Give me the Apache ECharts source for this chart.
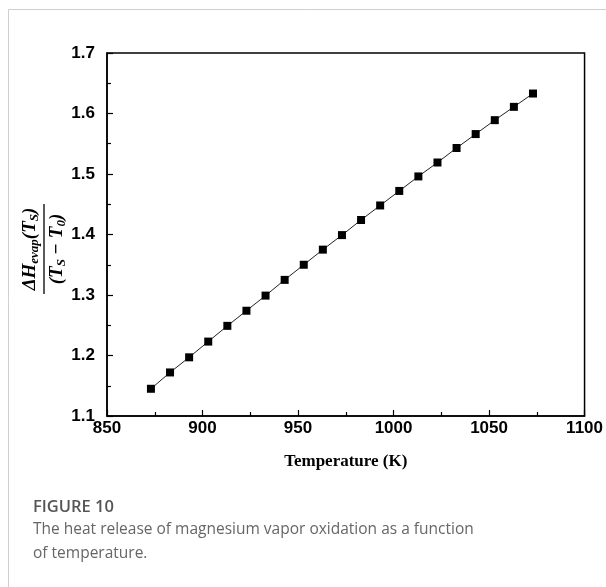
<!DOCTYPE html>
<html>
<head>
<meta charset="utf-8">
<script src="https://cdn.jsdelivr.net/npm/echarts@6/dist/echarts.min.js"></script>
<style>
html,body{margin:0;padding:0;background:#fff;}
#chart{width:606px;height:587px;}
</style>
</head>
<body>
<div id="chart"></div>
<script>
const temperatures = [873, 883, 893, 903, 913, 923, 933, 943, 953, 963, 973, 983, 993, 1003, 1013, 1023, 1033, 1043, 1053, 1063, 1073];
const heatRatio = [1.145, 1.172, 1.197, 1.223, 1.249, 1.274, 1.299, 1.325, 1.350, 1.375, 1.399, 1.424, 1.448, 1.472, 1.496, 1.519, 1.543, 1.566, 1.589, 1.611, 1.633];
const xTitle = 'Temperature (K)';
const captionTitle = 'FIGURE 10';
const captionLines = ['The heat release of magnesium vapor oxidation as a function', 'of temperature.'];

const chart = echarts.init(document.getElementById('chart'), null, {renderer: 'canvas'});
const labelFont = {fontFamily: 'Liberation Sans, Arial, sans-serif', fontWeight: 'bold', fontSize: 17, color: '#000'};
const serifRich = {
  n: {fontFamily: 'Liberation Serif, serif', fontStyle: 'italic', fontWeight: 'bold', fontSize: 19, color: '#000'},
  s: {fontFamily: 'Liberation Serif, serif', fontStyle: 'italic', fontWeight: 'bold', fontSize: 13, color: '#000', padding: [9, 0, 0, 0]}
};

chart.setOption({
  backgroundColor: '#fff',
  animation: false,
  grid: {left: 107, right: 18, top: 53, bottom: 171, show: true, borderColor: '#000', borderWidth: 1.5, backgroundColor: 'transparent'},
  xAxis: {
    type: 'value', min: 850, max: 1100, interval: 50,
    axisLine: {lineStyle: {color: '#000', width: 1.5}},
    axisTick: {inside: true, length: 6, lineStyle: {color: '#000', width: 1.2}},
    minorTick: {show: true, splitNumber: 2, length: 4, lineStyle: {color: '#000', width: 1.2}},
    splitLine: {show: false},
    axisLabel: Object.assign({margin: 4, formatter: v => String(v)}, labelFont),
    name: xTitle, nameLocation: 'middle', nameGap: 37,
    nameTextStyle: {fontFamily: 'Liberation Serif, Times New Roman, serif', fontWeight: 'bold', fontSize: 17, color: '#000'}
  },
  yAxis: {
    type: 'value', min: 1.1, max: 1.7, interval: 0.1,
    axisLine: {lineStyle: {color: '#000', width: 1.5}},
    axisTick: {inside: true, length: 6, lineStyle: {color: '#000', width: 1.2}},
    minorTick: {show: true, splitNumber: 2, length: 4, lineStyle: {color: '#000', width: 1.2}},
    splitLine: {show: false},
    axisLabel: Object.assign({margin: 12, formatter: v => v.toFixed(1)}, labelFont)
  },
  series: [{
    type: 'line',
    data: temperatures.map((t, i) => [t, heatRatio[i]]),
    symbol: 'rect', symbolSize: 8,
    itemStyle: {color: '#000'},
    lineStyle: {color: '#222', width: 1},
    showSymbol: true
  }],
  graphic: [
    {type: 'line', shape: {x1: 8.5, y1: 9.5, x2: 606, y2: 9.5}, style: {stroke: '#cfcfcf', lineWidth: 1}},
    {type: 'line', shape: {x1: 8.5, y1: 9.5, x2: 8.5, y2: 587}, style: {stroke: '#cfcfcf', lineWidth: 1}},
    {
      type: 'group', x: 44, y: 249, rotation: Math.PI / 2,
      children: [
        {type: 'text', x: 0, y: -3, style: {
          text: '{n|ΔH}{s|evap}{n|(T}{s|S}{n|)}', align: 'center', verticalAlign: 'bottom', rich: serifRich
        }},
        {type: 'line', shape: {x1: -45, y1: 0, x2: 45, y2: 0}, style: {stroke: '#000', lineWidth: 1.3}},
        {type: 'text', x: 0, y: 2, style: {
          text: '{n|(T}{s|S}{n| − T}{s|0}{n|)}', align: 'center', verticalAlign: 'top', rich: serifRich
        }}
      ]
    },
    {type: 'text', left: 33, top: 499, style: {text: captionTitle, fontFamily: 'Open Sans, sans-serif', fontWeight: 600, fontSize: 16.5, fill: '#555'}},
    {type: 'text', left: 33, top: 518, style: {text: captionLines.join('\n'), fontFamily: 'Open Sans, sans-serif', fontSize: 15.5, lineHeight: 24, fill: '#666'}}
  ]
});
</script>
</body>
</html>
